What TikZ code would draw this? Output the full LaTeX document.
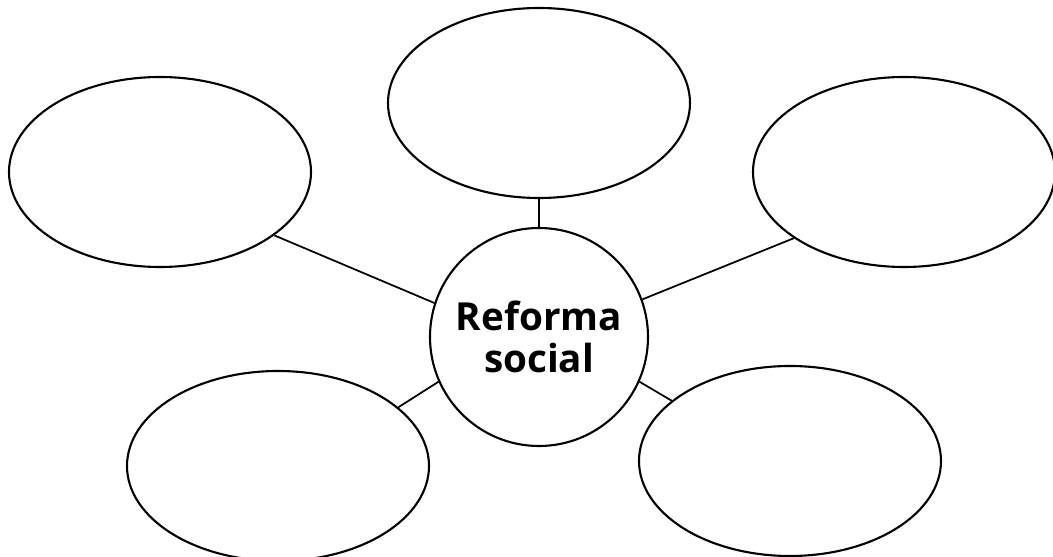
\documentclass[tikz,border=0pt]{standalone}
\usepackage{fontspec}
\setsansfont{Open Sans}
\usetikzlibrary{shapes.geometric}

\begin{document}
\begin{tikzpicture}[
  bubble/.style={draw, ellipse, line width=1.2pt, minimum width=6.04cm, minimum height=3.8cm, inner sep=0pt},
  hub/.style={draw, circle, line width=1.2pt, minimum size=4.36cm, inner sep=0pt, align=center,
    font=\sffamily\bfseries\fontsize{22}{24}\selectfont},
  link/.style={line width=1pt}
]
\useasboundingbox (0,0) rectangle (21.06,11.14);
\node[hub] (hub) at (10.78,4.4) {Reforma\\social};
\node[bubble] (top) at (10.78,9.08) {};
\node[bubble] (lefttop) at (3.2,7.7) {};
\node[bubble] (righttop) at (18.08,7.7) {};
\node[bubble] (leftbot) at (5.56,1.82) {};
\node[bubble] (rightbot) at (15.8,1.92) {};
\draw[link] (top.south) -- (hub.north);
\draw[link] (lefttop.-29.5) -- (hub.162);
\draw[link] (righttop.-149.7) -- (hub.20);
\draw[link] (leftbot.26) -- (hub.204.7);
\draw[link] (rightbot.153) -- (hub.-24.2);
\end{tikzpicture}
\end{document}
